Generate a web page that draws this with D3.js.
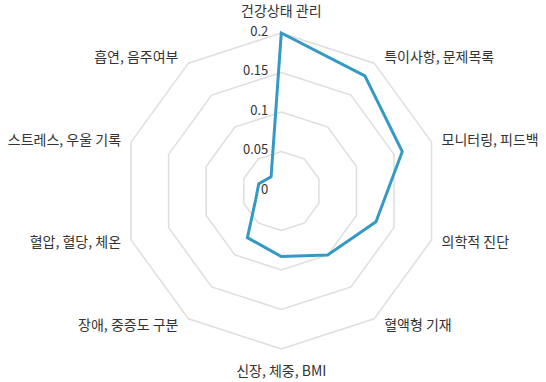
<!DOCTYPE html>
<html>
<head>
<meta charset="utf-8">
<script src="https://cdn.jsdelivr.net/npm/d3@7"></script>
<style>
  body { margin: 0; background: #fff; }
  text { font-family: "Noto Sans CJK KR", "Noto Sans", sans-serif; fill: #333; }
</style>
</head>
<body>
<script>
var categories = ["건강상태 관리", "특이사항, 문제목록", "모니터링, 피드백", "의학적 진단", "혈액형 기재",
                  "신장, 체중, BMI", "장애, 중증도 구분", "혈압, 혈당, 체온", "스트레스, 우울 기록", "흡연, 음주여부"];
var values = [0.2, 0.18, 0.161, 0.126, 0.1, 0.083, 0.073, 0.034, 0.03, 0.022];
var ticks = [0, 0.05, 0.1, 0.15, 0.2];
var tickLabels = ["0", "0.05", "0.1", "0.15", "0.2"];

var width = 546, height = 382,
    cx = 281.3, cy = 191, R = 158;

var svg = d3.select("body").append("svg").attr("width", width).attr("height", height);
var g = svg.append("g").attr("transform", "translate(" + cx + "," + cy + ")");

var r = d3.scaleLinear().domain([0, 0.2]).range([0, R]);
var angle = d3.scaleLinear().domain([0, categories.length]).range([0, 2 * Math.PI]);

// rings
var ring = d3.lineRadial()
    .angle(function(d, i) { return angle(i); })
    .radius(function(d) { return r(d); })
    .curve(d3.curveLinearClosed);

g.selectAll(".ring")
  .data(ticks.slice(1))
  .enter().append("path")
    .attr("class", "ring")
    .attr("d", function(t) { return ring(categories.map(function() { return t; })); })
    .attr("fill", "none")
    .attr("stroke", "#dedede")
    .attr("stroke-width", 1.5);

// tick labels
g.selectAll(".tick")
  .data(ticks)
  .enter().append("text")
    .attr("class", "tick")
    .attr("x", -13)
    .attr("y", function(d) { return -r(d) - 2; })
    .attr("dy", "0.35em")
    .attr("text-anchor", "end")
    .style("font-size", "13px")
    .text(function(d, i) { return tickLabels[i]; });

// data
g.append("path")
  .datum(values)
  .attr("d", ring)
  .attr("fill", "none")
  .attr("stroke", "#3499c4")
  .attr("stroke-width", 3)
  .attr("stroke-linejoin", "miter");

// category labels
g.selectAll(".label")
  .data(categories)
  .enter().append("text")
    .attr("class", "label")
    .style("font-size", "14px")
    .attr("dy", "0.35em")
    .each(function(d, i) {
      var a = angle(i), s = Math.sin(a), c = Math.cos(a);
      var x = R * s, y = -R * c, anchor = "middle";
      if (s > 0.1) { x += 10; y -= c * 8; anchor = "start"; }
      else if (s < -0.1) { x -= 10; y -= c * 8; anchor = "end"; }
      else { y -= c * 22; }
      d3.select(this).attr("x", x).attr("y", y).attr("text-anchor", anchor);
    })
    .text(function(d) { return d; });
</script>
</body>
</html>
